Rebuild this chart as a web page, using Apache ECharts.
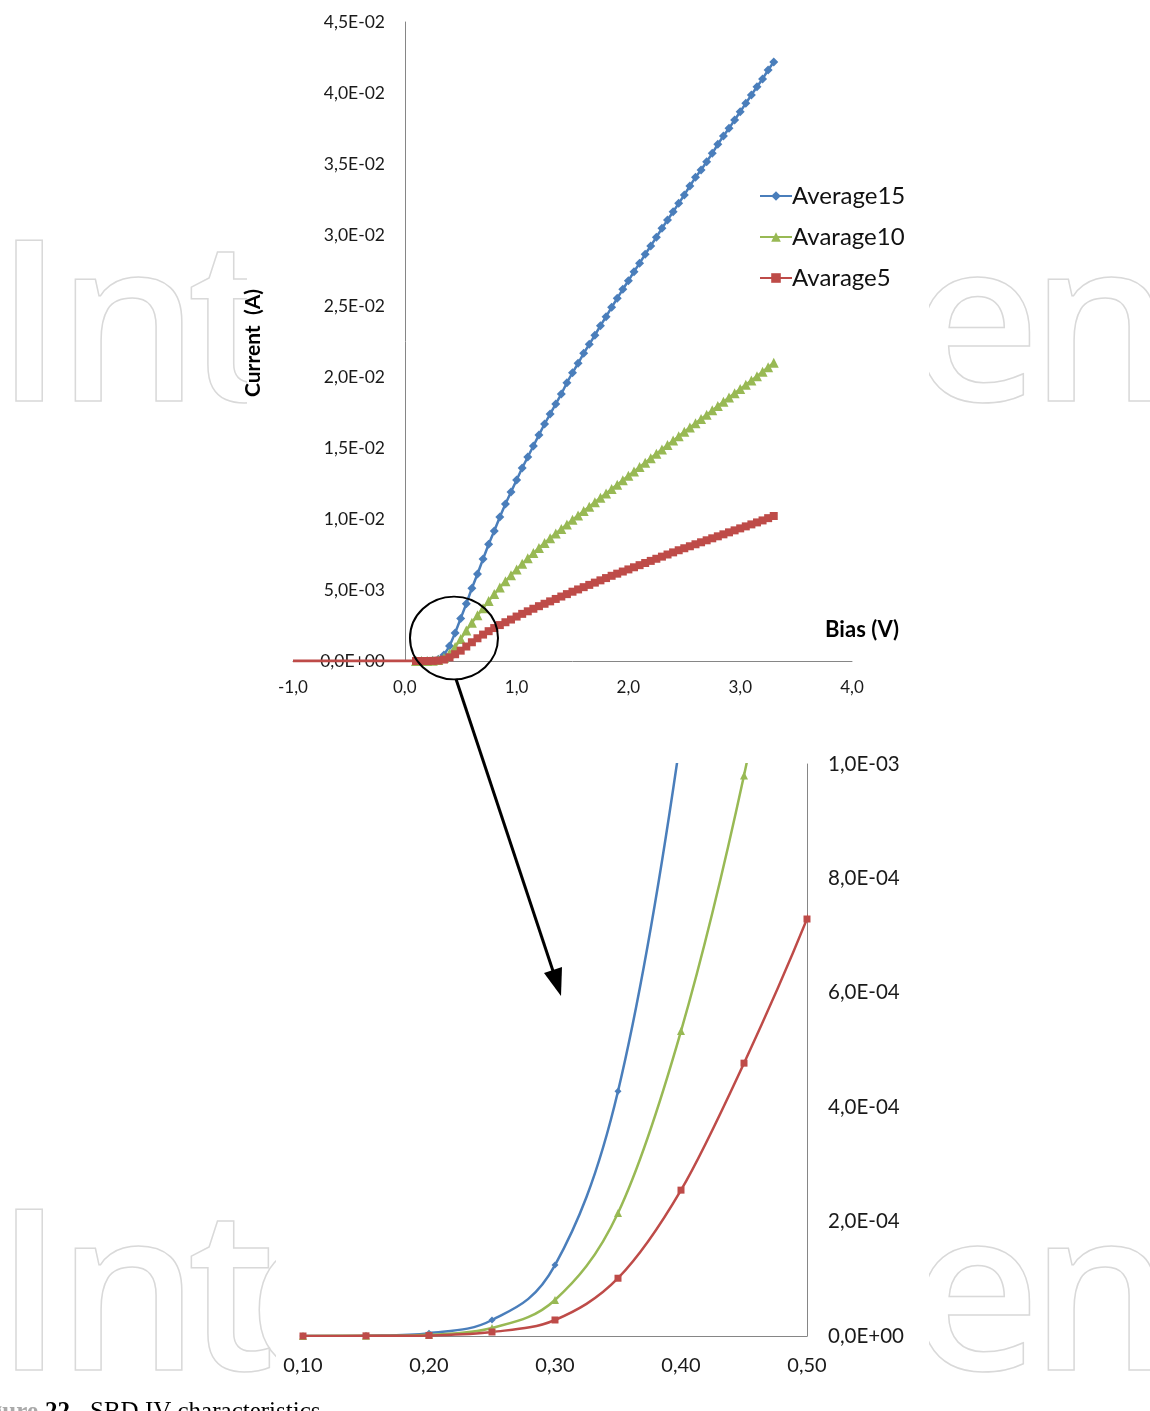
<!DOCTYPE html>
<html><head><meta charset="utf-8">
<script src="https://cdn.jsdelivr.net/npm/echarts@6/dist/echarts.min.js"></script>
<style>html,body{margin:0;padding:0;background:#fff}#c{width:1150px;height:1411px}</style>
</head><body><div id="c"></div><script>
// Bias (V)
const bias = [0.10,0.15,0.20,0.25,0.30,0.35,0.40,0.45,0.50,0.55,0.60,0.65,0.70,0.75,0.80,0.85,0.90,0.95,1.00,1.05,1.10,1.15,1.20,1.25,1.30,1.35,1.40,1.45,1.50,1.55,1.60,1.65,1.70,1.75,1.80,1.85,1.90,1.95,2.00,2.05,2.10,2.15,2.20,2.25,2.30,2.35,2.40,2.45,2.50,2.55,2.60,2.65,2.70,2.75,2.80,2.85,2.90,2.95,3.00,3.05,3.10,3.15,3.20,3.25,3.30];
// Current (A)
const average15 = [0,0.0000005,0.000005,0.000028,0.000124,0.000428,0.00105,0.00197,0.00300,0.00403,0.00512,0.00613,0.00718,0.00822,0.00916,0.01014,0.01106,0.01190,0.01275,0.01359,0.01437,0.01514,0.01592,0.01669,0.01739,0.01810,0.01880,0.01960,0.02030,0.02096,0.02167,0.02230,0.02294,0.02361,0.02425,0.02491,0.02554,0.02618,0.02678,0.02742,0.02801,0.02864,0.02923,0.02984,0.03047,0.03106,0.03164,0.03223,0.03282,0.03345,0.03406,0.03458,0.03516,0.03575,0.03639,0.03697,0.03751,0.03810,0.03868,0.03927,0.03986,0.04044,0.04099,0.04162,0.04218];
const avarage10 = [0,0.0000005,0.000002,0.000014,0.000063,0.000215,0.000533,0.00098,0.00155,0.00215,0.00270,0.00322,0.00372,0.00422,0.00471,0.00518,0.00562,0.00604,0.00645,0.00685,0.00723,0.00760,0.00796,0.00831,0.00865,0.00898,0.00930,0.00962,0.00994,0.01025,0.01056,0.01087,0.01118,0.01149,0.01180,0.01211,0.01242,0.01273,0.01304,0.01335,0.01366,0.01397,0.01428,0.01459,0.01490,0.01521,0.01552,0.01583,0.01614,0.01645,0.01675,0.01705,0.01735,0.01765,0.01795,0.01825,0.01855,0.01885,0.01915,0.01945,0.01975,0.02005,0.02037,0.02069,0.02101];
const avarage5 = [0,0.0000003,0.000001,0.000007,0.000028,0.000101,0.000255,0.000477,0.000729,0.00102,0.00132,0.00160,0.00186,0.00210,0.00232,0.00253,0.00273,0.00292,0.00313,0.00332,0.00350,0.00368,0.00386,0.00403,0.00420,0.00437,0.00454,0.00471,0.00488,0.00504,0.00520,0.00536,0.00552,0.00568,0.00584,0.00600,0.00615,0.00630,0.00645,0.00660,0.00675,0.00690,0.00705,0.00720,0.00735,0.00750,0.00765,0.00780,0.00794,0.00808,0.00822,0.00836,0.00850,0.00864,0.00878,0.00892,0.00906,0.00920,0.00934,0.00948,0.00962,0.00976,0.00990,0.01006,0.01021];
// reverse-bias part of Avarage5 (flat zero line)
const negBias = [-1.0, 0.10];
const negCurrent = [0, 0];
const seriesNames = ['Average15','Avarage10','Avarage5'];
const colors = ['#4A7EBB','#98B954','#BE4B48'];
const symbols = ['diamond','triangle','rect'];

function sci(v){
  if (Math.abs(v) < 1e-15) return '0,0E+00';
  let e = Math.floor(Math.log10(Math.abs(v)) + 1e-9);
  let ms = (v / Math.pow(10, e)).toFixed(1);
  if (parseFloat(ms) >= 10) { e += 1; ms = (v/Math.pow(10,e)).toFixed(1); }
  return ms.replace('.', ',') + 'E' + (e < 0 ? '-' : '+') + String(Math.abs(e)).padStart(2,'0');
}
const F = 'Lato';
const pair = arr => bias.map((b,i)=>[b, arr[i]]);
const data = [average15, avarage10, avarage5];

// Excel-like (Catmull-Rom) smooth path through pixel points
function smoothPath(p){
  let d = 'M' + p[0][0] + ' ' + p[0][1];
  for (let i = 0; i < p.length - 1; i++){
    const p0 = p[i-1] || p[i], p1 = p[i], p2 = p[i+1], p3 = p[i+2] || p[i+1];
    const c1x = p1[0] + (p2[0]-p0[0])/6, c1y = p1[1] + (p2[1]-p0[1])/6;
    const c2x = p2[0] - (p3[0]-p1[0])/6, c2y = p2[1] - (p3[1]-p1[1])/6;
    d += ' C' + c1x + ' ' + c1y + ' ' + c2x + ' ' + c2y + ' ' + p2[0] + ' ' + p2[1];
  }
  return d;
}

const series = [];
data.forEach((arr,k)=>{
  series.push({name: seriesNames[k], type:'line', xAxisIndex:0, yAxisIndex:0, data: pair(arr),
    symbol: symbols[k], symbolSize: k===1?10:(k===0?9:8), showSymbol:true,
    lineStyle:{color:colors[k], width:2.5}, itemStyle:{color:colors[k]},
    emphasis:{disabled:true}, z: 2+k});
});
series.push({name:'Avarage5', type:'line', xAxisIndex:0, yAxisIndex:0,
  data: negBias.map((b,i)=>[b,negCurrent[i]]), symbol:'none',
  lineStyle:{color:colors[2], width:3}, itemStyle:{color:colors[2]}, emphasis:{disabled:true}, z:5});
data.forEach((arr,k)=>{
  // smoothed line (drawn through the axis scales)
  series.push({name: seriesNames[k] + ' zoom', type:'custom', xAxisIndex:1, yAxisIndex:1, data: pair(arr),
    encode:{x:0, y:1}, z: 2+k, silent:true,
    renderItem: function(params, api){
      if (params.dataIndex !== 0) return null;
      const pts = bias.map((b,i)=>api.coord([b, arr[i]]));
      const cs = params.coordSys;
      return {type:'group', clipPath:{type:'rect', shape:{x:cs.x, y:cs.y-1, width:cs.width+1, height:cs.height+2}},
        children:[{type:'path', shape:{pathData: smoothPath(pts)}, style:{fill:'none', stroke:colors[k], lineWidth:2.5}}]};
    }});
  // markers
  series.push({name: seriesNames[k], type:'line', xAxisIndex:1, yAxisIndex:1, data: pair(arr),
    symbol: symbols[k], symbolSize: k===1?8:7, clip:true,
    lineStyle:{width:0, opacity:0}, itemStyle:{color:colors[k]},
    emphasis:{disabled:true}, z: 3+k});
});

const axLine = {show:true, onZero:false, lineStyle:{color:'#868686', width:1}};
const lab = (fs, m, fmt) => ({fontFamily:F, fontSize:fs, color:'#1a1a1a', margin:m, formatter:fmt});
const wm = {font:'600 224px "Open Sans"', fill:'rgba(0,0,0,0)', stroke:'#d9d9d9', lineWidth:1.5};

const option = {
  animation:false,
  backgroundColor:'#fff',
  grid:[
    {left:293, top:22, width:559, height:639},
    {left:303, top:764, width:504, height:572}
  ],
  xAxis:[
    {type:'value', gridIndex:0, min:-1, max:4, interval:1, axisLine:axLine, axisTick:{show:false}, splitLine:{show:false},
     axisLabel: lab(17, 18, v=>v.toFixed(1).replace('.',','))},
    {type:'value', gridIndex:1, min:0.1, max:0.5, interval:0.1, axisLine:axLine, axisTick:{show:false}, splitLine:{show:false},
     axisLabel: lab(20, 20, v=>v.toFixed(2).replace('.',','))}
  ],
  yAxis:[
    {type:'value', gridIndex:0, min:0, max:0.045, interval:0.005, offset:-112, axisLine:axLine, axisTick:{show:false}, splitLine:{show:false},
     axisLabel: lab(17.5, 20, sci)},
    {type:'value', gridIndex:1, min:0, max:0.001, interval:0.0002, position:'right', axisLine:axLine,
     axisTick:{show:false}, splitLine:{show:false}, axisLabel: lab(20.5, 21, sci)}
  ],
  legend:{data:seriesNames, orient:'vertical', left:754, top:179, itemWidth:32, itemHeight:12, itemGap:17,
    textStyle:{fontFamily:F, fontSize:24, color:'#111', lineHeight:24, padding:[0,0,0,-5]}, selectedMode:false},
  graphic:[
    // watermark
    {type:'text', z:-5, x:-5, y:225, style:Object.assign({text:'I'}, wm)},
    {type:'text', z:-5, x:57, y:225, style:Object.assign({text:'n'}, wm)},
    {type:'text', z:-5, x:187, y:225, style:Object.assign({text:'t'}, wm)},
    {type:'text', z:-5, x:911, y:225, style:Object.assign({text:'e'}, wm)},
    {type:'text', z:-5, x:1030, y:225, style:Object.assign({text:'n'}, wm)},
    {type:'text', z:-5, x:-5, y:1194, style:Object.assign({text:'I'}, wm)},
    {type:'text', z:-5, x:57, y:1194, style:Object.assign({text:'n'}, wm)},
    {type:'text', z:-5, x:187, y:1194, style:Object.assign({text:'t'}, wm)},
    {type:'text', z:-5, x:248, y:1194, style:Object.assign({text:'e'}, wm)},
    {type:'text', z:-5, x:911, y:1194, style:Object.assign({text:'e'}, wm)},
    {type:'text', z:-5, x:1030, y:1194, style:Object.assign({text:'n'}, wm)},
    {type:'rect', z:-4, shape:{x:247, y:220, width:682, height:260}, style:{fill:'#fff'}},
    {type:'rect', z:-4, shape:{x:276, y:1190, width:653, height:220}, style:{fill:'#fff'}},
    // axis titles
    {type:'text', z:10, x:253, y:343, rotation:Math.PI/2, style:{text:'Current  (A)', font:'bold 21px Lato', fill:'#000', align:'center', verticalAlign:'middle'}},
    {type:'text', z:10, x:862, y:630, style:{text:'Bias (V)', font:'bold 22px Lato', fill:'#000', align:'center', verticalAlign:'middle'}},
    // circle + arrow annotation
    {type:'circle', z:20, x:454, y:638, scaleY:0.94, shape:{cx:0, cy:0, r:44}, style:{fill:null, stroke:'#000', lineWidth:2}},
    {type:'line', z:20, shape:{x1:456, y1:679, x2:553, y2:971}, style:{stroke:'#000', lineWidth:3}},
    {type:'polygon', z:20, shape:{points:[[561,996],[544,973],[562,967]]}, style:{fill:'#000'}},
    // caption
    {type:'text', z:10, x:38, y:1400, style:{text:'Figure', align:'right', font:'bold 25px "Liberation Serif"', fill:'#aaa'}},
    {type:'text', z:10, x:45, y:1400, style:{text:'22.', font:'bold 25px "Liberation Serif"', fill:'#000'}},
    {type:'text', z:10, x:90, y:1400, style:{text:'SBD IV characteristics', font:'25px "Liberation Serif"', fill:'#000'}}
  ],
  series: series
};
const chart = echarts.init(document.getElementById('c'), null, {renderer:'canvas'});
chart.setOption(option);
</script></body></html>
